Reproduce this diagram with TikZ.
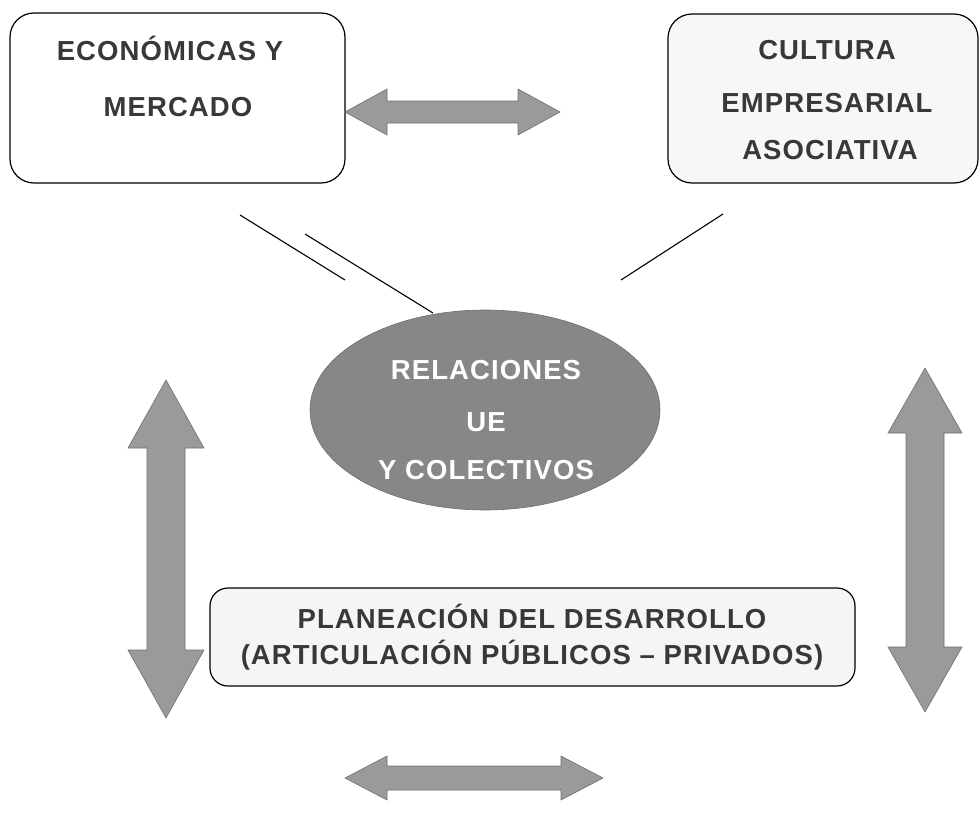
\documentclass[tikz,border=0pt]{standalone}
\usepackage{fontspec}
\setmainfont{Liberation Sans}
\newfontfamily\lblfont[LetterSpace=4]{Liberation Sans}
\usetikzlibrary{shapes.geometric}
\definecolor{txtgray}{HTML}{383838}
\definecolor{arrfill}{HTML}{9A9A9A}
\definecolor{arredge}{HTML}{6E6E6E}
\definecolor{ellfill}{HTML}{878787}
\tikzset{
  box/.style={draw=black, line width=1.2pt, rounded corners=24pt, inner sep=0pt},
  lbl/.style={text=txtgray, font=\lblfont\bfseries\fontsize{27.5}{50}\selectfont, align=center, inner sep=0pt},
  bigarrow/.style={fill=arrfill, draw=arredge, line width=0.6pt, line join=miter},
  link/.style={draw=black, line width=1.1pt}
}
\begin{document}
\begin{tikzpicture}[x=1pt,y=-1pt]
\useasboundingbox (0,0) rectangle (980,814);
% boxes
\node[box, fill=white, minimum width=335pt, minimum height=170pt] (eco) at (177.5,98) {};
\node[box, fill=black!3, minimum width=310pt, minimum height=169pt] (cul) at (823,98.5) {};
\node[box, fill=black!4, rounded corners=18pt, minimum width=645pt, minimum height=98pt] (pla) at (532.5,637) {};
% texts
\node[lbl] (ecot1) at (170,48) {ECONÓMICAS Y};
\node[lbl] (ecot2) at (178,107) {MERCADO};
\node[lbl] (cult1) at (827,50) {CULTURA};
\node[lbl] (cult2) at (827,103) {EMPRESARIAL};
\node[lbl] (cult3) at (830,150) {ASOCIATIVA};
\node[lbl] (plat1) at (532,616) {PLANEACIÓN DEL DESARROLLO};
\node[lbl] (plat2) at (532,655) {(ARTICULACIÓN PÚBLICOS – PRIVADOS)};
% ellipse
\node[ellipse, fill=ellfill, draw=ellfill!80!black, line width=0.6pt, minimum width=350pt, minimum height=200pt, inner sep=0pt] (rel) at (485,410) {};
\node[lbl, text=white] (relt1) at (486,370) {RELACIONES};
\node[lbl, text=white] (relt2) at (486,422) {UE};
\node[lbl, text=white] (relt3) at (486,470) {Y COLECTIVOS};
% lines
\coordinate (la1) at (240,215);
\coordinate (la2) at (345,280);
\coordinate (lb1) at (305,234);
\coordinate (lb2) at (433,313);
\coordinate (lc1) at (723,214);
\coordinate (lc2) at (621,280);
\draw[link] (la1) -- (la2);
\draw[link] (lb1) -- (lb2);
\draw[link] (lc1) -- (lc2);
% top arrow
\draw[bigarrow] (345,112) -- (387,89) -- (387,101) -- (518,101) -- (518,89) -- (560,112) -- (518,135) -- (518,123) -- (387,123) -- (387,135) -- cycle;
% bottom arrow
\draw[bigarrow] (345,778) -- (387,756) -- (387,766) -- (561,766) -- (561,756) -- (603,778) -- (561,800) -- (561,790) -- (387,790) -- (387,800) -- cycle;
% left vertical arrow
\draw[bigarrow] (166,380) -- (204,448) -- (185,448) -- (185,650) -- (204,650) -- (166,718) -- (128,650) -- (147,650) -- (147,448) -- (128,448) -- cycle;
% right vertical arrow
\draw[bigarrow] (925,368) -- (962,433) -- (944,433) -- (944,647) -- (962,647) -- (925,712) -- (888,647) -- (906,647) -- (906,433) -- (888,433) -- cycle;
\end{tikzpicture}
\end{document}
